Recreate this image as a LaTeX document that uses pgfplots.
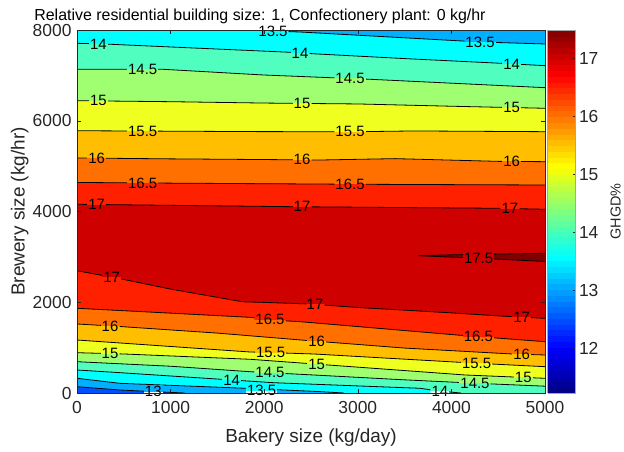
\documentclass[border=0pt]{standalone}
\usepackage{pgfplots}
\pgfplotsset{compat=1.18}
\usepackage{fontspec}
\setmainfont{Liberation Sans}
\definecolor{c125}{rgb}{0,0.3125,1}
\definecolor{c13}{rgb}{0,0.6875,1}
\definecolor{c135}{rgb}{0,1,1}
\definecolor{c14}{rgb}{0.3125,1,0.75}
\definecolor{c145}{rgb}{0.625,1,0.4375}
\definecolor{c15}{rgb}{0.9375,1,0.125}
\definecolor{c155}{rgb}{1,0.75,0}
\definecolor{c16}{rgb}{1,0.4375,0}
\definecolor{c165}{rgb}{1,0.125,0}
\definecolor{c17}{rgb}{0.8125,0,0}
\definecolor{c175}{rgb}{0.5,0,0}
\definecolor{axgray}{rgb}{0.15,0.15,0.15}
\tikzset{
  clab/.style n args={2}{font=\fontsize{15}{15}\selectfont, inner sep=1.2bp, text=black,
    path picture={
      \fill[#1] (path picture bounding box.north west) rectangle (path picture bounding box.east);
      \fill[#2] (path picture bounding box.west) rectangle (path picture bounding box.south east);}},
}
\pgfplotsset{
  fl/.style={draw=none, fill=#1, forget plot},
  cl/.style={black, line width=0.8bp, forget plot},
}
\begin{document}
\begin{tikzpicture}
\useasboundingbox (0,0) rectangle (624bp,452bp);
\begin{axis}[
  at={(77bp,59bp)}, anchor=south west,
  scale only axis, width=468bp, height=363bp,
  xmin=0, xmax=5000, ymin=0, ymax=8000,
  axis on top, clip mode=individual,
  xtick={0,1000,2000,3000,4000,5000},
  xticklabels={0,1000,2000,3000,4000,5000},
  ytick={0,2000,4000,6000,8000},
  yticklabels={0,2000,4000,6000,8000},
  tick align=inside, major tick length=4bp,
  every tick/.style={axgray, line width=0.5bp},
  axis line style={axgray, line width=0.6bp},
  tick label style={font=\fontsize{17.5}{17.5}\selectfont, text=axgray},
  xticklabel style={yshift=-5bp},
  yticklabel style={xshift=-2bp},
  xlabel={Bakery size (kg/day)},
  ylabel={Brewery size (kg/hr)},
  label style={font=\fontsize{19}{19}\selectfont, text=axgray},
  xlabel style={at={(axis description cs:0.5,-0.1377)}, anchor=base},
  ylabel style={at={(axis description cs:-0.112,0.5)}, anchor=base},
  title={\fontsize{16}{16}\selectfont Relative residential building size: 1, Confectionery plant: 0 kg/hr},
  every axis title/.style={at={(axis description cs:0.391,1.0275)}, anchor=base},
  colormap/jet,
  point meta min=11.226, point meta max=17.487,
  colorbar sampled,
  colorbar style={
    samples=64,
    at={(parent axis.north east)}, anchor=north west, xshift=-6bp,
    scale only axis, width=28bp, height=363bp,
    ytick={12,13,14,15,16,17},
    yticklabels={12,13,14,15,16,17},
    yticklabel pos=right, ytick pos=right,
    tick align=inside, major tick length=3bp,
    every tick/.style={axgray, line width=0.5bp},
    axis line style={gray!70},
    yticklabel style={font=\fontsize{17.5}{17.5}\selectfont, text=axgray},
    ylabel={GHGD\%},
    ylabel style={at={(axis description cs:2.43,0.5)}, anchor=center, font=\fontsize{14.5}{14.5}\selectfont, text=axgray},
  },
]
% background band 12.5-13
\addplot[fl=c125] coordinates {(0,0) (5000,0) (5000,8000) (0,8000)};
% lower contour fills (region above each line)
\addplot[fl=c13] coordinates {(0,139) (460,66) (815,30) (1150,0) (5000,0) (5000,8000) (0,8000)};
\addplot[fl=c135] coordinates {(0,324) (460,213) (1850,100) (2600,30) (2850,0) (5000,0) (5000,8000) (0,8000)};
\addplot[fl=c14] coordinates {(0,507) (460,448) (1653,287) (2100,227) (3665,104) (3880,40) (4100,0) (5000,0) (5000,8000) (0,8000)};
\addplot[fl=c145] coordinates {(0,690) (1000,590) (1850,469) (2500,400) (3500,290) (4270,214) (5000,150) (5000,8000) (0,8000)};
\addplot[fl=c15] coordinates {(0,888) (500,860) (1850,743) (2600,630) (4146,397) (5000,324) (5000,8000) (0,8000)};
\addplot[fl=c155] coordinates {(0,1168) (1848,904) (2300,875) (2530,860) (4272,655) (5000,580) (5000,8000) (0,8000)};
\addplot[fl=c16] coordinates {(0,1521) (491,1461) (1500,1320) (2500,1150) (3500,990) (4647,860) (5000,838) (5000,8000) (0,8000)};
\addplot[fl=c165] coordinates {(0,1867) (1000,1760) (1848,1668) (2100,1605) (2383,1572) (3000,1464) (4060,1278) (5000,1131) (5000,8000) (0,8000)};
\addplot[fl=c17] coordinates {(0,2695) (490,2506) (1000,2290) (1770,2010) (2000,1997) (2500,1960) (3000,1885) (4000,1766) (4500,1700) (5000,1646) (5000,8000) (0,8000)};
% 17.5 sliver
\addplot[fl=c175] coordinates {(3645,3026) (4000,3045) (4500,3062) (5000,3079) (5000,2898) (4500,2950) (4000,2995)};
% upper contour fills (region above each line)
\addplot[fl=c165] coordinates {(0,4159) (2300,4106) (4500,4071) (5000,4049) (5000,8000) (0,8000)};
\addplot[fl=c16] coordinates {(0,4640) (1000,4625) (3000,4600) (5000,4584) (5000,8000) (0,8000)};
\addplot[fl=c155] coordinates {(0,5180) (1000,5160) (2000,5145) (2600,5135) (3400,5165) (4500,5105) (5000,5098) (5000,8000) (0,8000)};
\addplot[fl=c15] coordinates {(0,5780) (1000,5770) (2000,5760) (3000,5759) (3600,5775) (5000,5759) (5000,8000) (0,8000)};
\addplot[fl=c145] coordinates {(0,6442) (1000,6420) (2000,6390) (3000,6370) (4000,6320) (4500,6297) (5000,6275) (5000,8000) (0,8000)};
\addplot[fl=c14] coordinates {(0,7134) (919,7134) (1987,7009) (3130,6914) (5000,6729) (5000,8000) (0,8000)};
\addplot[fl=c135] coordinates {(0,7707) (353,7686) (1000,7626) (2276,7509) (2564,7472) (3500,7370) (4519,7267) (5000,7214) (5000,8000) (0,8000)};
\addplot[fl=c13] coordinates {(1741,8000) (2383,7956) (3500,7828) (4306,7736) (5000,7692) (5000,8000)};
% contour lines
\addplot[cl] coordinates {(0,139) (460,66) (815,30) (1150,0)};
\addplot[cl] coordinates {(0,324) (460,213) (1850,100) (2600,30) (2850,0)};
\addplot[cl] coordinates {(0,507) (460,448) (1653,287) (2100,227) (3665,104) (3880,40) (4100,0)};
\addplot[cl] coordinates {(0,690) (1000,590) (1850,469) (2500,400) (3500,290) (4270,214) (5000,150)};
\addplot[cl] coordinates {(0,888) (500,860) (1850,743) (2600,630) (4146,397) (5000,324)};
\addplot[cl] coordinates {(0,1168) (1848,904) (2300,875) (2530,860) (4272,655) (5000,580)};
\addplot[cl] coordinates {(0,1521) (491,1461) (1500,1320) (2500,1150) (3500,990) (4647,860) (5000,838)};
\addplot[cl] coordinates {(0,1867) (1000,1760) (1848,1668) (2100,1605) (2383,1572) (3000,1464) (4060,1278) (5000,1131)};
\addplot[cl] coordinates {(0,2695) (490,2506) (1000,2290) (1770,2010) (2000,1997) (2500,1960) (3000,1885) (4000,1766) (4500,1700) (5000,1646)};
\addplot[cl] coordinates {(5000,3079) (4500,3062) (4000,3045) (3645,3026) (4000,2995) (4500,2950) (5000,2898)};
\addplot[cl] coordinates {(0,4159) (2300,4106) (4500,4071) (5000,4049)};
\addplot[cl] coordinates {(0,4640) (1000,4625) (3000,4600) (5000,4584)};
\addplot[cl] coordinates {(0,5180) (1000,5160) (2000,5145) (2600,5135) (3400,5165) (4500,5105) (5000,5098)};
\addplot[cl] coordinates {(0,5780) (1000,5770) (2000,5760) (3000,5759) (3600,5775) (5000,5759)};
\addplot[cl] coordinates {(0,6442) (1000,6420) (2000,6390) (3000,6370) (4000,6320) (4500,6297) (5000,6275)};
\addplot[cl] coordinates {(0,7134) (919,7134) (1987,7009) (3130,6914) (5000,6729)};
\addplot[cl] coordinates {(0,7707) (353,7686) (1000,7626) (2276,7509) (2564,7472) (3500,7370) (4519,7267) (5000,7214)};
\addplot[cl] coordinates {(1741,8000) (2383,7956) (3500,7828) (4306,7736) (5000,7692)};
% contour labels
\node[clab={white}{c135}] at (axis cs:2094,7976) {13.5};
\node[clab={c13}{c135}] at (axis cs:4306,7736) {13.5};
\node[clab={c135}{c14}] at (axis cs:228,7693) {14};
\node[clab={c135}{c14}] at (axis cs:2383,7495) {14};
\node[clab={c135}{c14}] at (axis cs:4644,7253) {14};
\node[clab={c14}{c145}] at (axis cs:702,7134) {14.5};
\node[clab={c14}{c145}] at (axis cs:2917,6932) {14.5};
\node[clab={c145}{c15}] at (axis cs:228,6437) {15};
\node[clab={c145}{c15}] at (axis cs:2404,6382) {15};
\node[clab={c145}{c15}] at (axis cs:4644,6291) {15};
\node[clab={c15}{c155}] at (axis cs:702,5773) {15.5};
\node[clab={c15}{c155}] at (axis cs:2917,5759) {15.5};
\node[clab={c155}{c16}] at (axis cs:210,5176) {16};
\node[clab={c155}{c16}] at (axis cs:2404,5139) {16};
\node[clab={c155}{c16}] at (axis cs:4644,5103) {16};
\node[clab={c16}{c165}] at (axis cs:702,4630) {16.5};
\node[clab={c16}{c165}] at (axis cs:2917,4601) {16.5};
\node[clab={c165}{c17}] at (axis cs:210,4154) {17};
\node[clab={c165}{c17}] at (axis cs:2404,4104) {17};
\node[clab={c165}{c17}] at (axis cs:4626,4065) {17};
\node[clab={c17}{c17}] at (axis cs:4290,2965) {17.5};
\node[clab={c17}{c165}] at (axis cs:371,2552) {17};
\node[clab={c17}{c165}] at (axis cs:2543,1954) {17};
\node[clab={c17}{c165}] at (axis cs:4751,1673) {17};
\node[clab={c165}{c16}] at (axis cs:2062,1614) {16.5};
\node[clab={c165}{c16}] at (axis cs:4288,1242) {16.5};
\node[clab={c16}{c155}] at (axis cs:353,1478) {16};
\node[clab={c16}{c155}] at (axis cs:2561,1140) {16};
\node[clab={c16}{c155}] at (axis cs:4751,854) {16};
\node[clab={c155}{c15}] at (axis cs:2069,890) {15.5};
\node[clab={c155}{c15}] at (axis cs:4270,655) {15.5};
\node[clab={c15}{c145}] at (axis cs:353,868) {15};
\node[clab={c15}{c145}] at (axis cs:2561,636) {15};
\node[clab={c15}{c145}] at (axis cs:4768,344) {15};
\node[clab={c145}{c14}] at (axis cs:2062,446) {14.5};
\node[clab={c145}{c14}] at (axis cs:4252,216) {14.5};
\node[clab={c14}{c135}] at (axis cs:1653,287) {14};
\node[clab={c14}{white}] at (axis cs:3878,40) {14};
\node[clab={c135}{white}] at (axis cs:1973,55) {13.5};
\node[clab={c13}{white}] at (axis cs:815,30) {13};
\end{axis}
\end{tikzpicture}
\end{document}
